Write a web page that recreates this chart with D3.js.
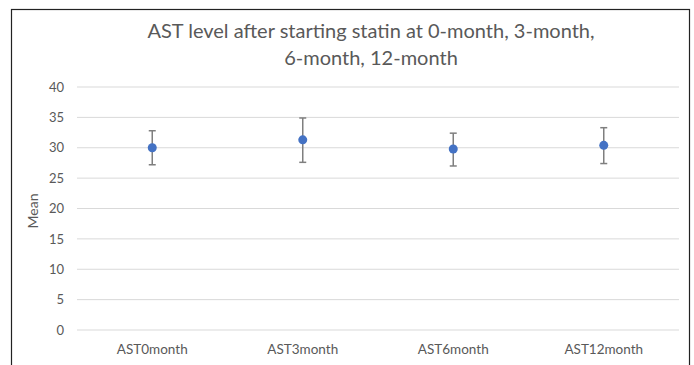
<!DOCTYPE html>
<html lang="en">
<head>
    <meta charset="UTF-8">
    <title>AST level</title>
    <script src="https://d3js.org/d3.v7.min.js"></script>
    <style>
        body { margin: 0; background: #fff; }
        text { font-family: Lato, "Open Sans", sans-serif; }
    </style>
</head>
<body>
    <div id="chart"></div>
    <script>
        const categories = ["AST0month", "AST3month", "AST6month", "AST12month"];
        const means = [30.0, 31.3, 29.8, 30.4];
        const errLow = [2.8, 3.7, 2.8, 3.0];
        const errHigh = [2.8, 3.6, 2.6, 2.9];
        const yTicks = [0, 5, 10, 15, 20, 25, 30, 35, 40];

        const width = 694;
        const height = 365;
        const margin = { top: 87, right: 15, bottom: 35, left: 77 };

        const svg = d3.select("#chart")
            .append("svg")
            .attr("width", width)
            .attr("height", height);

        // outer border
        svg.append("rect")
            .attr("x", 11.5).attr("y", 9.5)
            .attr("width", 678).attr("height", 370)
            .attr("fill", "#fff")
            .attr("stroke", "#222")
            .attr("stroke-width", 1.2);

        const xScale = d3.scaleBand()
            .domain(categories)
            .range([margin.left, 679]);

        const yScale = d3.scaleLinear()
            .domain([0, 40])
            .range([330, margin.top]);

        // gridlines
        svg.append("g")
            .selectAll("line")
            .data(yTicks)
            .join("line")
            .attr("x1", margin.left)
            .attr("x2", 679)
            .attr("y1", d => yScale(d))
            .attr("y2", d => yScale(d))
            .attr("stroke", "#d9d9d9")
            .attr("stroke-width", 1);

        // y axis labels
        const yAxis = svg.append("g")
            .attr("transform", `translate(${margin.left - 13},0)`)
            .call(d3.axisLeft(yScale).tickValues(yTicks).tickSize(0).tickPadding(0));
        yAxis.select(".domain").remove();
        yAxis.selectAll("text")
            .attr("fill", "#595959")
            .style("font-size", "13px");

        // x axis labels
        const xAxis = svg.append("g")
            .attr("transform", `translate(0,330)`)
            .call(d3.axisBottom(xScale).tickSize(0).tickPadding(14));
        xAxis.select(".domain").remove();
        xAxis.selectAll("text")
            .attr("fill", "#595959")
            .style("font-size", "13.5px");

        // axis title
        svg.append("text")
            .attr("transform", "translate(38,211) rotate(-90)")
            .attr("text-anchor", "middle")
            .attr("fill", "#595959")
            .style("font-size", "14px")
            .text("Mean");

        // title
        const title = svg.append("text")
            .attr("text-anchor", "middle")
            .attr("fill", "#595959")
            .style("font-size", "20px");
        title.append("tspan").attr("x", 371).attr("y", 38)
            .text("AST level after starting statin at 0-month, 3-month,");
        title.append("tspan").attr("x", 371).attr("y", 65)
            .text("6-month, 12-month");

        const cx = d => xScale(d) + xScale.bandwidth() / 2;

        // error bars
        const eb = svg.append("g")
            .selectAll("g")
            .data(categories)
            .join("g")
            .attr("stroke", "#7f7f7f")
            .attr("stroke-width", 1.5);
        eb.append("line")
            .attr("x1", cx).attr("x2", cx)
            .attr("y1", (d, i) => yScale(means[i] + errHigh[i]))
            .attr("y2", (d, i) => yScale(means[i] - errLow[i]));
        eb.append("line")
            .attr("x1", d => cx(d) - 3.5).attr("x2", d => cx(d) + 3.5)
            .attr("y1", (d, i) => yScale(means[i] + errHigh[i]))
            .attr("y2", (d, i) => yScale(means[i] + errHigh[i]));
        eb.append("line")
            .attr("x1", d => cx(d) - 3.5).attr("x2", d => cx(d) + 3.5)
            .attr("y1", (d, i) => yScale(means[i] - errLow[i]))
            .attr("y2", (d, i) => yScale(means[i] - errLow[i]));

        // points
        svg.append("g")
            .selectAll("circle")
            .data(categories)
            .join("circle")
            .attr("cx", cx)
            .attr("cy", (d, i) => yScale(means[i]))
            .attr("r", 4.5)
            .attr("fill", "#4472c4");
    </script>
</body>
</html>
